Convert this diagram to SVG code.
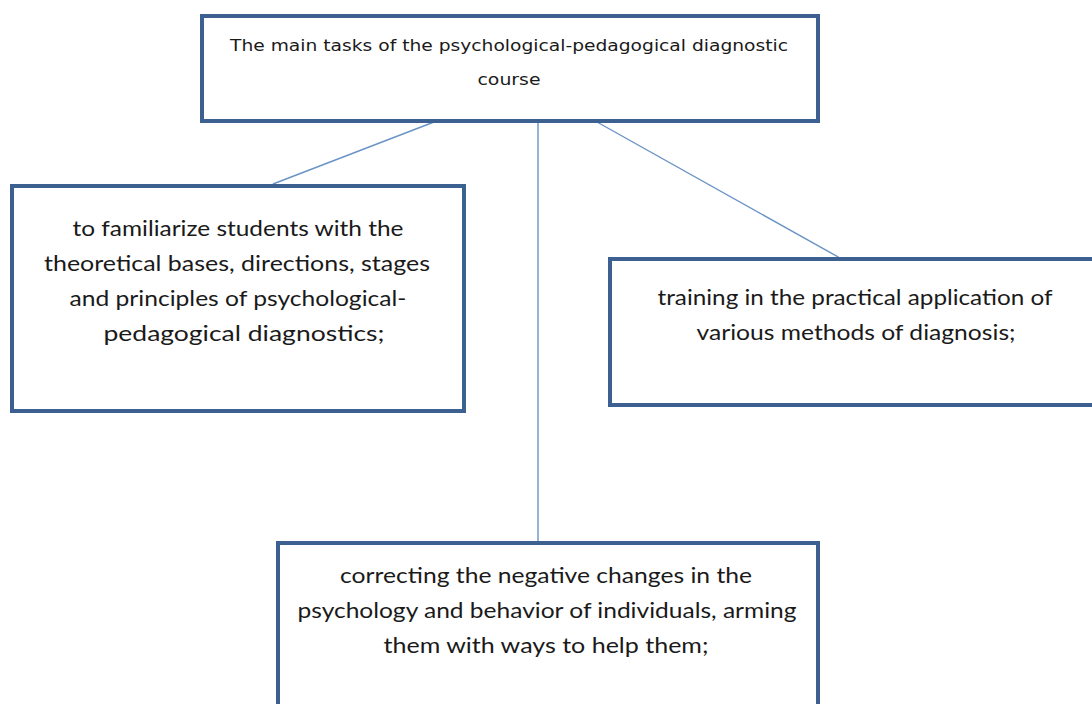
<svg xmlns="http://www.w3.org/2000/svg" width="1092" height="704" viewBox="0 0 1092 704">
  <style>
    .box { fill: #ffffff; stroke: #3c6090; stroke-width: 4; }
    .link { stroke: #6a93c6; stroke-width: 1.4; fill: none; }
    .t { font-family: Lato, "Liberation Sans", sans-serif; font-size: 21px; fill: #1a1a1a; text-anchor: middle; }
    .h { font-family: "DejaVu Sans", "Liberation Sans", sans-serif; font-size: 15.5px; fill: #1a1a1a; text-anchor: middle; }
  </style>
  <rect width="1092" height="704" fill="#ffffff"/>

  <g id="connectors">
    <line class="link" x1="434" y1="122" x2="273" y2="184"/>
    <line class="link" x1="538" y1="120" x2="538" y2="541"/>
    <line class="link" x1="597" y1="122" x2="840" y2="258"/>
  </g>

  <g id="main-tasks">
    <rect class="box" x="202" y="16" width="616" height="105"/>
    <text class="h" x="509" y="51" textLength="558" lengthAdjust="spacingAndGlyphs">The main tasks of the psychological-pedagogical diagnostic</text>
    <text class="h" x="509" y="85" textLength="63" lengthAdjust="spacingAndGlyphs">course</text>
  </g>

  <g id="familiarize">
    <rect class="box" x="12" y="186" width="452" height="225"/>
    <text class="t" x="238" y="236" textLength="331" lengthAdjust="spacingAndGlyphs">to familiarize students with the</text>
    <text class="t" x="237" y="271" textLength="386" lengthAdjust="spacingAndGlyphs">theoretical bases, directions, stages</text>
    <text class="t" x="238" y="306" textLength="337" lengthAdjust="spacingAndGlyphs">and principles of psychological-</text>
    <text class="t" x="244" y="341" textLength="281" lengthAdjust="spacingAndGlyphs">pedagogical diagnostics;</text>
  </g>

  <g id="training">
    <rect class="box" x="610" y="259" width="490" height="146"/>
    <text class="t" x="855" y="305" textLength="395" lengthAdjust="spacingAndGlyphs">training in the practical application of</text>
    <text class="t" x="856" y="340" textLength="319" lengthAdjust="spacingAndGlyphs">various methods of diagnosis;</text>
  </g>

  <g id="correcting">
    <rect class="box" x="278" y="543" width="540" height="180"/>
    <text class="t" x="546" y="583" textLength="412" lengthAdjust="spacingAndGlyphs">correcting the negative changes in the</text>
    <text class="t" x="547" y="618" textLength="499" lengthAdjust="spacingAndGlyphs">psychology and behavior of individuals, arming</text>
    <text class="t" x="546" y="653" textLength="325" lengthAdjust="spacingAndGlyphs">them with ways to help them;</text>
  </g>
</svg>
